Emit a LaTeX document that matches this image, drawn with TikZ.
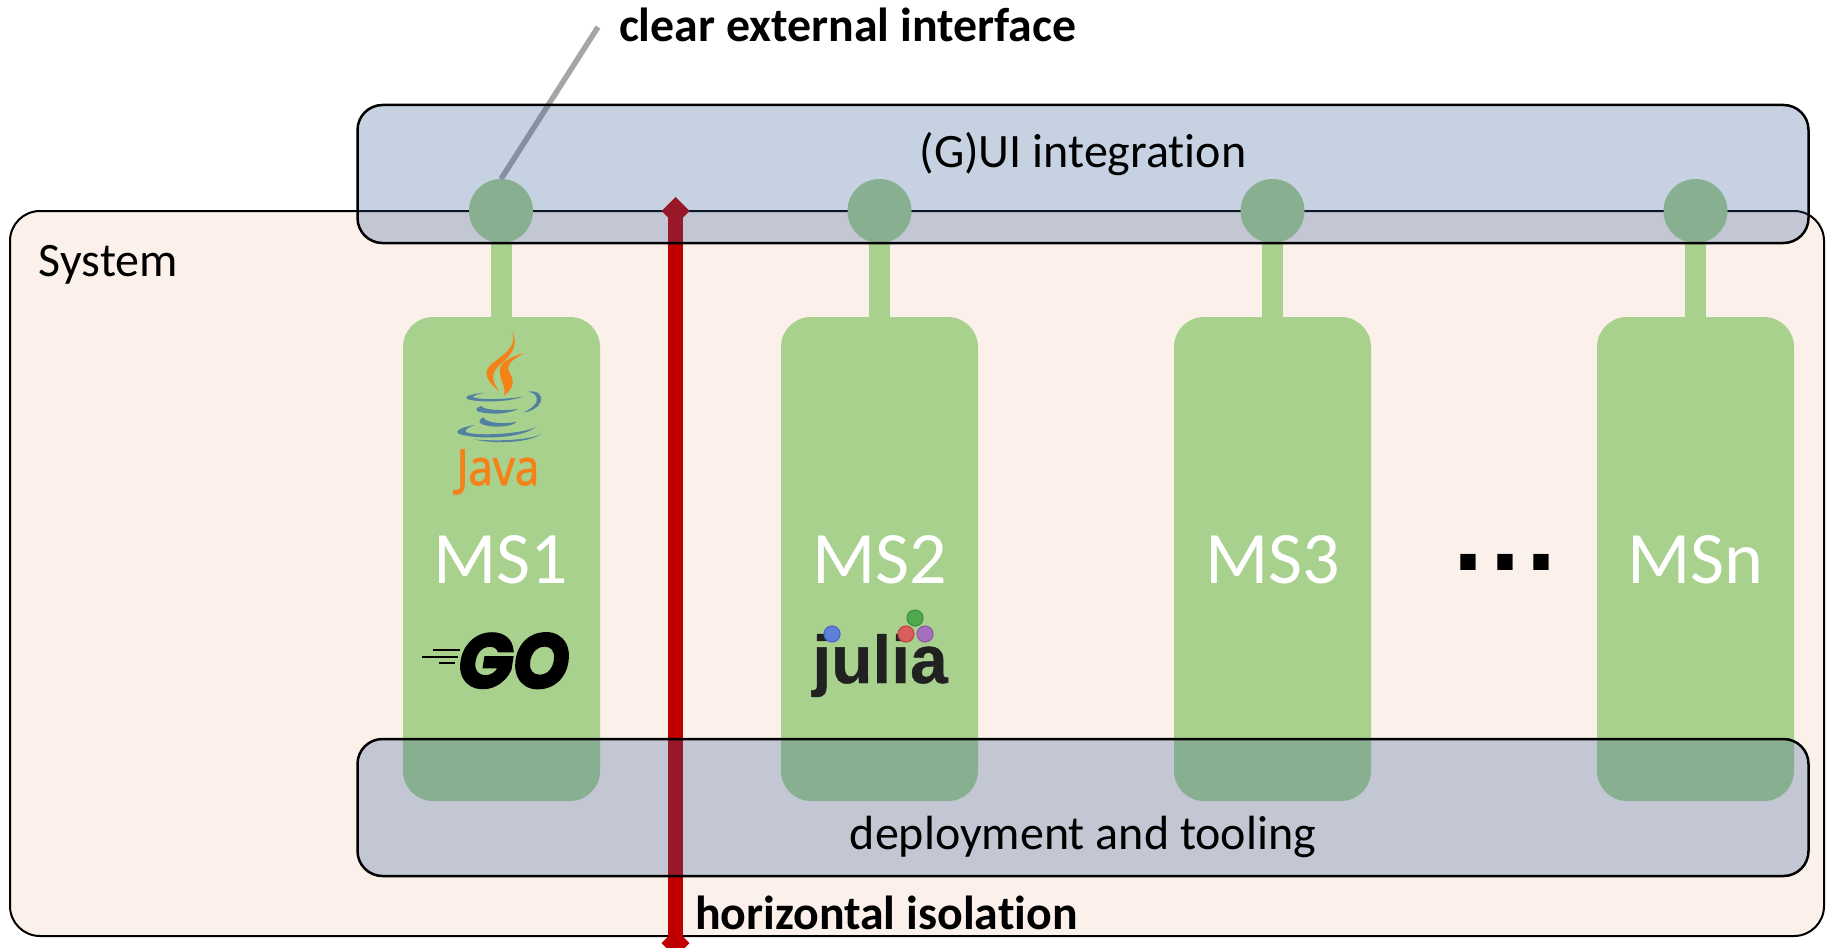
\documentclass[tikz,border=0pt]{standalone}
\usepackage{fontspec}
\setmainfont{Carlito}[Ligatures={NoCommon}]
\newfontfamily\gofont[FakeBold=3.5,FakeStretch=0.94]{Poppins Bold Italic}
\newfontfamily\juliafont[FakeBold=0.6]{Liberation Sans Bold}
\newfontfamily\javafont[FakeStretch=0.88,FakeBold=1.6]{Open Sans}
\newfontfamily\dotfont{Liberation Sans Bold}
\usetikzlibrary{shapes.geometric}
\definecolor{sysfill}{HTML}{FBF0EA}
\definecolor{msgreen}{HTML}{A9D18E}
\definecolor{overlayblue}{RGB}{47,85,151}
\definecolor{isored}{HTML}{C00000}
\definecolor{leadgray}{HTML}{A6A6A6}
\definecolor{javaorange}{HTML}{F58219}
\definecolor{javablue}{HTML}{5382A1}
\definecolor{julblue}{RGB}{94,128,219}
\definecolor{julblueedge}{RGB}{74,102,196}
\definecolor{julred}{RGB}{216,96,92}
\definecolor{julrededge}{RGB}{196,70,70}
\definecolor{julpurple}{RGB}{165,111,190}
\definecolor{julpurpleedge}{RGB}{145,90,170}
\definecolor{julgreen}{RGB}{79,169,78}
\definecolor{julgreenedge}{RGB}{60,150,60}
\tikzset{
  x=0.5pt,y=-0.5pt,
  sysbox/.style={draw=black,line width=1pt,fill=sysfill,rounded corners=15pt,inner sep=0,outer sep=0,minimum width=907pt,minimum height=362.5pt},
  msbox/.style={fill=msgreen,rounded corners=15pt,inner sep=0,outer sep=0,minimum width=98.5pt,minimum height=242pt},
  overlaybox/.style={draw=black,line width=1.25pt,fill=overlayblue,fill opacity=0.27,draw opacity=1,text opacity=1,rounded corners=12.5pt,inner sep=0,outer sep=0,minimum width=725.5pt,minimum height=69pt},
  iface/.style={circle,fill=msgreen,inner sep=0,outer sep=0,minimum size=32pt},
  stem/.style={msgreen,line width=10.5pt},
  isoline/.style={isored,line width=7.5pt},
  isotip/.style={diamond,fill=isored,inner sep=0,outer sep=0,minimum size=14pt},
  lbl/.style={inner sep=0,outer sep=0,anchor=base,font=\fontsize{24}{28}\selectfont},
  lblleft/.style={inner sep=0,outer sep=0,anchor=base west,font=\fontsize{24}{28}\selectfont},
  bold/.style={font=\fontsize{23.9}{28}\selectfont\bfseries},
  mstext/.style={inner sep=0,outer sep=0,anchor=base,text=white,font=\fontsize{37}{40}\selectfont},
  jul/.style={circle,inner sep=0,outer sep=0,minimum size=8pt,line width=0.6pt},
}
\begin{document}
\begin{tikzpicture}
\useasboundingbox (0,0) rectangle (1829,947);
\clip (0,0) rectangle (1829,947);
\fill[white] (0,0) rectangle (1829,947);
\node[sysbox] (system) at (917,573.5) {};
% services
\node[msbox] (ms1) at (501.5,559) {};
\node[msbox] (ms2) at (879.5,559) {};
\node[msbox] (ms3) at (1272.5,559) {};
\node[msbox] (msn) at (1695.5,559) {};
\node[iface] (if1) at (501,211) {};
\node[iface] (if2) at (879.5,211) {};
\node[iface] (if3) at (1272.5,211) {};
\node[iface] (ifn) at (1695.5,211) {};
\draw[stem] (if1.south) -- (if1.south |- ms1.north);
\draw[stem] (if2.south) -- (ms2.north);
\draw[stem] (if3.south) -- (ms3.north);
\draw[stem] (ifn.south) -- (msn.north);
% isolation line
\node[isotip] (isotop) at (675.5,211) {};
\node[isotip] (isobot) at (675.5,943) {};
\draw[isoline] (isotop.center) -- (isobot.center);
% leader
\coordinate (leadend) at (598,27);
\draw[leadgray,line width=2.75pt] (leadend) -- (if1.north);
% Java logo
\begin{scope}[shift={(380,300)},x=0.16667pt,y=-0.16667pt]
\fill[javaorange] (395,90) .. controls (410,130) and (390,150) .. (350,180) .. controls (315,205) and (300,225) .. (358,275) .. controls (330,235) and (335,215) .. (365,190) .. controls (400,160) and (415,130) .. (395,90) -- cycle;
\fill[javaorange] (432,160) .. controls (390,170) and (350,190) .. (360,225) .. controls (365,250) and (378,262) .. (372,287) .. controls (400,265) and (405,245) .. (390,220) .. controls (375,195) and (395,180) .. (432,160) -- cycle;
\fill[javablue] (316,278) .. controls (270,282) and (250,290) .. (262,297) .. controls (300,310) and (390,305) .. (430,290) .. controls (380,298) and (300,300) .. (280,292) .. controls (275,288) and (295,282) .. (316,278) -- cycle;
\fill[javablue] (445,275) .. controls (470,270) and (490,285) .. (482,305) .. controls (475,325) and (450,335) .. (430,338) .. controls (455,325) and (475,310) .. (470,293) .. controls (468,282) and (455,278) .. (445,275) -- cycle;
\fill[javablue] (305,318) .. controls (280,325) and (285,335) .. (310,338) .. controls (350,345) and (395,338) .. (415,327) .. controls (380,332) and (310,332) .. (305,318) -- cycle;
\fill[javablue] (310,352) .. controls (285,365) and (300,378) .. (350,380) .. controls (385,380) and (405,372) .. (410,365) .. controls (380,372) and (320,372) .. (310,352) -- cycle;
\fill[javablue] (285,375) .. controls (240,382) and (220,395) .. (240,403) .. controls (300,420) and (430,415) .. (468,380) .. controls (440,400) and (300,410) .. (260,397) .. controls (250,390) and (265,382) .. (285,375) -- cycle;
\fill[javablue] (280,418) .. controls (340,432) and (450,430) .. (485,400) .. controls (460,420) and (350,425) .. (280,418) -- cycle;
\end{scope}
\node[inner sep=0,outer sep=0,anchor=base,text=javaorange,font=\fontsize{25}{30}\javafont] (javatxt) at (498,485) {Java};
% Go logo
\node[inner sep=0,outer sep=0,anchor=base,font=\fontsize{38}{40}\gofont] (gotxt) at (514,687.5) {GO};
\coordinate (gl1a) at (433,650); \coordinate (gl1b) at (460,650);
\coordinate (gl2a) at (422,657); \coordinate (gl2b) at (458,657);
\coordinate (gl3a) at (439,663); \coordinate (gl3b) at (455,663);
\draw[black,line width=1pt] (gl1a) -- (gl1b) (gl2a) -- (gl2b) (gl3a) -- (gl3b);
% Julia logo
\node[inner sep=0,outer sep=0,anchor=base,text=black!87,font=\fontsize{33.8}{40}\juliafont] (jultxt) at (880,683) {julia};
\node[jul,fill=julblue,draw=julblueedge] (jd1) at (832,634) {};
\node[jul,fill=julred,draw=julrededge] (jd2) at (906,634) {};
\node[jul,fill=julpurple,draw=julpurpleedge] (jd3) at (925,634) {};
\node[jul,fill=julgreen,draw=julgreenedge] (jd4) at (915,618) {};
% overlays
\node[overlaybox] (gui) at (1083,174) {};
\node[overlaybox,minimum height=68.5pt] (deploy) at (1083,807.5) {};
% labels
\node[lbl] (guitxt) at (1083,167) {(G)UI integration};
\node[lbl] (deptxt) at (1083,849) {deployment and tooling};
\node[lblleft] (systxt) at (39,276) {System};
\node[lblleft,bold] (cleartxt) at (619,42) {clear external interface};
\node[lblleft,bold] (hortxt) at (695,929) {horizontal isolation};
\node[mstext] (t1) at (501,583) {MS1};
\node[mstext] (t2) at (879.5,583) {MS2};
\node[mstext] (t3) at (1272.5,583) {MS3};
\node[mstext] (tn) at (1695.5,583) {MSn};
\node[inner sep=0,outer sep=0,anchor=base,font=\fontsize{54}{56}\dotfont] (dots) at (1505,570) {.\kern3.15pt.\kern3.15pt.};
\end{tikzpicture}
\end{document}
